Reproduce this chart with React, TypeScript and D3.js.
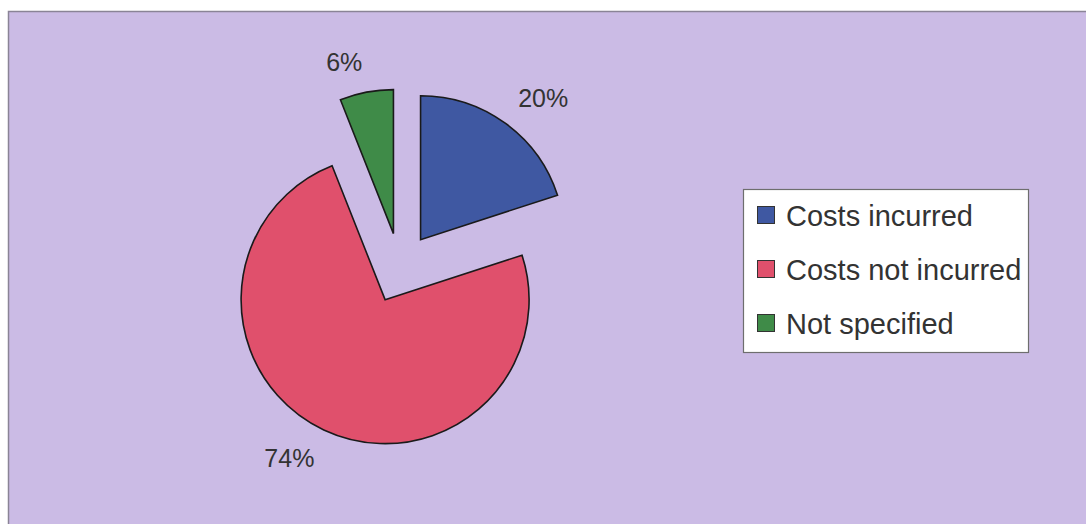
import React from "react";
import * as d3 from "d3";

const categories = ["Costs incurred", "Costs not incurred", "Not specified"];
const values = [20, 74, 6];
const labels = ["20%", "74%", "6%"];
const colors = ["#3F58A2", "#E0506C", "#3F8B48"];

const W = 1086;
const H = 524;

export default function App() {
  const cx = 400;
  const cy = 268;
  const r = 144;
  const explode = 35;
  const pie = d3.pie<number>().sort(null).value((d) => d)(values);
  const arc = d3.arc<d3.PieArcDatum<number>>().innerRadius(0).outerRadius(r);
  const labelR = 201;
  const fs = 25;
  const cap = fs * 0.716;

  return (
    <svg
      width={W}
      height={H}
      style={{ position: "absolute", left: 0, top: 0, display: "block" }}
      fontFamily="'Liberation Sans', Arial, sans-serif"
    >
      <rect x={0} y={0} width={W} height={H} fill="#ffffff" />
      <rect x={8.5} y={11.5} width={W + 20} height={H + 20} fill="#CBBBE5" stroke="#8a8496" strokeWidth={1.5} />
      <g>
        {pie.map((p, i) => {
          const mid = (p.startAngle + p.endAngle) / 2;
          const ox = cx + explode * Math.sin(mid);
          const oy = cy - explode * Math.cos(mid);
          return (
            <path
              key={categories[i]}
              d={arc(p) || ""}
              transform={`translate(${ox},${oy})`}
              fill={colors[i]}
              stroke="#1a1a1a"
              strokeWidth={1.6}
              strokeLinejoin="miter"
            />
          );
        })}
        {pie.map((p, i) => {
          const mid = (p.startAngle + p.endAngle) / 2;
          const s = Math.sin(mid);
          const c = Math.cos(mid);
          const lx = cx + labelR * s;
          const ly = cy - labelR * c;
          return (
            <text
              key={"l" + i}
              x={lx}
              y={ly + cap * (0.5 - 0.5 * c)}
              textAnchor={s >= 0 ? "start" : "end"}
              fontSize={fs}
              fill="#333333"
            >
              {labels[i]}
            </text>
          );
        })}
      </g>
      <g>
        <rect x={743.5} y={189.5} width={285} height={163} fill="#ffffff" stroke="#6e6e6e" strokeWidth={1.2} />
        {categories.map((c, i) => {
          const base = 226 + i * 54;
          return (
            <g key={c}>
              <rect x={757.5} y={base - 19.5} width={17} height={17} fill={colors[i]} stroke="#333" strokeWidth={1} />
              <text x={786} y={base} fontSize={29} fill="#333333">
                {c}
              </text>
            </g>
          );
        })}
      </g>
    </svg>
  );
}
